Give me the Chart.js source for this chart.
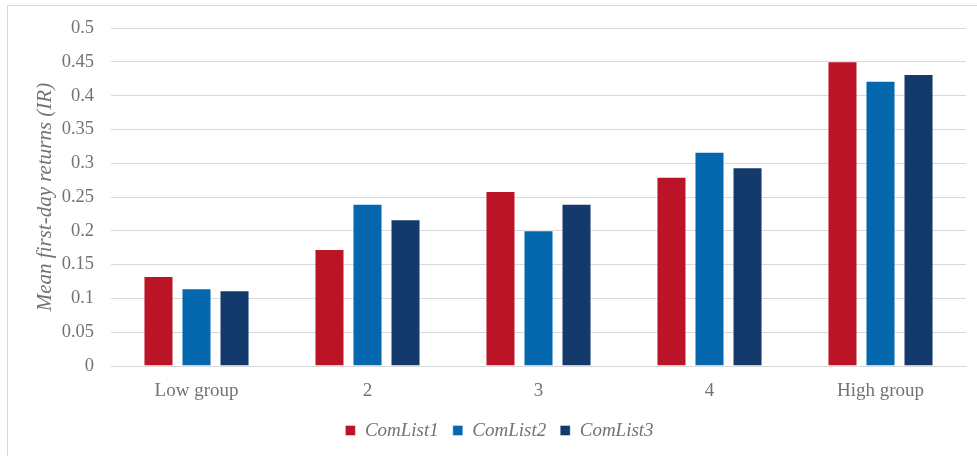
<!DOCTYPE html>
<html lang="en">
<head>
  <meta charset="UTF-8">
  <title>Mean first-day returns</title>
  <script src="https://cdn.jsdelivr.net/npm/chart.js@4.4.0/dist/chart.umd.min.js"></script>
  <style>
    body { margin: 0; background: #fff; }
    #frame { position: absolute; left: 7px; top: 5px; width: 990px; height: 470px; border: 1px solid #d9d9d9; }
    #wrap { position: absolute; left: 0; top: 0; width: 977px; height: 456px; }
  </style>
</head>
<body>
  <div id="frame"></div>
  <div id="wrap"><canvas id="chart"></canvas></div>

  <script>
    // groups on the x axis
    var groups = ['Low group', '2', '3', '4', 'High group'];
    // mean first-day returns per list
    var comList1 = [0.133, 0.173, 0.259, 0.280, 0.451];
    var comList2 = [0.115, 0.240, 0.201, 0.317, 0.422];
    var comList3 = [0.112, 0.217, 0.240, 0.294, 0.432];

    var serif = "'Liberation Serif', 'Times New Roman', serif";
    var grey = '#737373';

    function bars(label, data, color) {
      return {
        label: label,
        data: data,
        backgroundColor: color,
        borderColor: 'rgba(255,255,255,0.4)',
        borderWidth: 1,
        categoryPercentage: 0.667,
        barPercentage: 0.79
      };
    }

    var ctx = document.getElementById('chart').getContext('2d');
    new Chart(ctx, {
      type: 'bar',
      data: {
        labels: groups,
        datasets: [
          bars('ComList1', comList1, '#BA1426'),
          bars('ComList2', comList2, '#0567AE'),
          bars('ComList3', comList3, '#133A6B')
        ]
      },
      options: {
        responsive: true,
        maintainAspectRatio: false,
        animation: false,
        layout: { padding: { left: 33, right: 11, top: 21, bottom: 6 } },
        plugins: {
          tooltip: { enabled: false },
          legend: {
            position: 'bottom',
            labels: {
              boxWidth: 10,
              boxHeight: 10,
              padding: 14,
              color: grey,
              font: { family: serif, size: 19, style: 'italic' }
            }
          }
        },
        scales: {
          x: {
            grid: { display: false, drawTicks: false },
            border: { color: '#d9d9d9', width: 1 },
            ticks: { color: grey, padding: 14, font: { family: serif, size: 19 } },
            afterFit: function (scale) { scale.height = 41; }
          },
          y: {
            min: 0,
            max: 0.5,
            grid: { color: '#d9d9d9', drawTicks: false },
            border: { display: false },
            ticks: {
              stepSize: 0.05,
              padding: 17,
              color: grey,
              font: { family: serif, size: 18.5 },
              callback: function (v) { return +v.toFixed(2); }
            },
            title: {
              display: true,
              text: 'Mean first-day returns (IR)',
              color: grey,
              padding: 0,
              font: { family: serif, size: 21, style: 'italic' }
            },
            afterFit: function (scale) { scale.width = 78; }
          }
        }
      }
    });
  </script>
</body>
</html>
